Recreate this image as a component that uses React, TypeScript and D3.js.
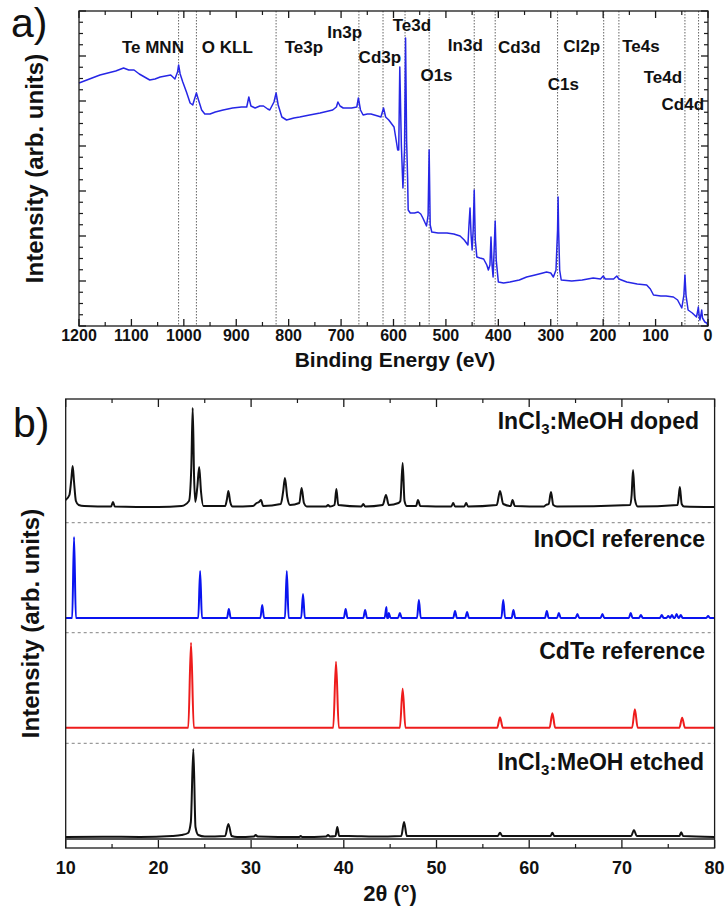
import React from "react";
import * as d3 from "d3";

// ---------- Panel a: XPS survey ----------
const xpsBE = [1200,1190,1175,1160,1145,1130,1115,1105,1095,1085,1075,1065,1055,1045,1035,1025,1017,1012,1010,1007,1002,995,988,983,979,976,972,966,960,950,940,925,907,890,880,876,872,864,855,848,840,836,828,824,820,813,804,790,779,760,740,716,709,706,702,696,680,670,667,663,658,650,643,630,624,619,615,609,599,595,592,590,588,585,582,579,577,575,573,572,568,560,553,548,544,537,534,532,530,527,515,498,485,473,465,458,456,454,452,450,448,446,444,441,435,428,422,419,416,414,412,410,408,406,404,400,390,378,360,346,330,315,308,300,295,290,287,286,285,283,280,260,240,219,205,200,196,180,174,170,155,135,117,110,104,90,80,66,58,50,46,44,42,38,30,22,20,18.5,17,15.5,13.5,12,10.5,6,2.5,0];
const xpsInt = [243,245,248,251,253,255,258,256,256,252,249,246,247,249,250,251,247,254,261,252,244,234,223,221,228,233,226,216,212,212,214,216,218,219,219,229,220,218,220,220,217,216,224,233,221,209,206,208,209,211,213,216,219,224,220,218,218,219,228,216,211,212,212,210,209,218,209,206,199,186,176,176,259,181,138,176,288,186,146,116,113,113,114,112,108,100,111,176,101,94,93,93,92,90,86,81,101,118,91,76,96,136,86,69,68,67,61,56,61,89,61,49,76,105,66,44,43,44,46,49,51,53,54,53,49,56,96,129,96,56,46,45,46,48,47,50,47,47,50,47,44,42,41,37,31,30,30,29,26,18,31,51,31,16,13,9,14,19,11,6,11,16,8,4,3,0];
const xpsLines = [1010, 976, 824, 666, 620, 578, 532, 446, 406, 287, 199, 170, 44, 18];
const xpsLabels = ["Te MNN","O KLL","Te3p","In3p","Cd3p","Te3d","O1s","In3d","Cd3d","Cl2p","Te4s","C1s","Te4d","Cd4d"];
const xpsLabelBE = [1059, 917, 771, 693, 626, 565, 518, 463, 360, 241, 128, 276, 86, 48];
const xpsLabelLevel = [273, 273, 273, 288, 263, 295, 245, 275, 273, 274, 274, 236, 243, 216];
const xpsTicks = [1200,1100,1000,900,800,700,600,500,400,300,200,100,0];

// ---------- Panel b: XRD ----------
const dopedTheta = [10,10.4,10.6,10.75,10.9,11.1,11.4,12,14.9,15.1,15.3,20,22.5,23.3,23.55,23.7,23.85,23.98,24.2,24.4,24.6,24.85,27.2,27.4,27.55,27.75,28,30.2,30.6,30.85,31.07,31.3,33.2,33.45,33.65,33.9,34.2,35.2,35.45,35.7,36,38.1,38.3,38.5,39.0,39.2,39.4,41.9,42.1,42.3,44.2,44.55,44.85,45.9,46.1,46.35,46.55,46.8,47.8,48.0,48.25,51.6,51.8,52,53.0,53.2,53.4,56.5,56.85,57.2,58.0,58.2,58.45,61.6,61.8,62.1,62.35,62.6,63,70.9,71.05,71.2,71.4,71.7,76.0,76.1,76.25,76.45,76.7,80];
const dopedInt = [7,12,27,41,25,6,2,1,0.5,5,0.5,0,1,6,40,99,30,5,20,40,15,1,1,8,16,5,0.5,1,4,5,7,1,3,15,29,10,2,4,19,4,0.5,0.5,2,0.5,2,18,2,0.5,3,0.5,2,12,2,4,6,44,6,1,1,7,1,0.5,4,0.5,0.5,4,0.5,2,16,3,1,7,1,0.5,2,3,15,2,0.5,2,12,37,8,0.5,2,8,20,3,0.5,0];

const etchedTheta = [10,14,18,21.5,22.5,23.2,23.5,23.77,24.0,24.3,25,27.2,27.55,27.9,28.5,30.3,30.5,30.7,35.2,35.35,35.5,38.1,38.3,38.5,39.1,39.3,39.5,40.5,43.3,46.2,46.5,46.8,49.8,56.6,56.85,57.1,62.3,62.5,62.7,71.0,71.3,71.6,76.2,76.4,76.6,80];
const etchedInt = [0,0.3,0,1,2,4,15,88,10,2,0.5,1,13,1,0,0.5,2,0.5,0,1,0,0.5,2,0.5,1,10,1,1,0.5,1,15,1,1,1,4.3,1,1,4.3,1,1,7,1,1,4.7,1,0];

const inoclPeaks = [10.9,24.5,27.6,31.2,33.85,35.6,40.2,42.3,44.6,44.85,46.05,48.1,52.0,53.3,57.2,58.3,61.9,63.2,65.2,67.9,70.95,72.05,74.3,75.0,75.4,75.9,76.35,79.3];
const inoclHeights = [81,47,9,13,47,24,9,8,11,5,5,18,7,6,18,8,7,5,4,4,5,3,3,2,3,4,3,2];

const cdtePeaks = [23.52,39.16,46.35,56.85,62.5,71.4,76.5];
const cdteHeights = [85,66,39,10.4,14.4,18.4,10];

const xrdOffsets = [341, 230, 120.3, 11]; // doped, InOCl, CdTe, etched
const xrdSeparators = [325.3, 215.3, 104.7];
const xrdLabels = ["doped", "InOCl reference", "CdTe reference", "etched"];
const xrdTicks = [10,20,30,40,50,60,70,80];

const FONT = "'Liberation Sans', Arial, sans-serif";

function peaksToPoints(pos: number[], h: number[], w: number): [number, number][] {
  const pts: [number, number][] = [[10, 0]];
  pos.forEach((p, i) => {
    pts.push([p - w, 0], [p, h[i]], [p + w, 0]);
  });
  pts.push([80, 0]);
  return pts.sort((a, b) => a[0] - b[0]);
}

export default function App() {
  const xA = d3.scaleLinear().domain([1200, 0]).range([79, 708]);
  const yA = d3.scaleLinear().domain([0, 315]).range([326, 11]);
  const xB = d3.scaleLinear().domain([10, 80]).range([65.7, 714.6]);
  const yB = d3.scaleLinear().domain([0, 449]).range([848, 399]);

  const lineA = d3.line<number>().x((_, i) => xA(xpsBE[i])).y((d) => yA(d)).curve(d3.curveLinear);
  const xpsPath = lineA(xpsInt) || "";

  const mkLine = (off: number) =>
    d3.line<[number, number]>().x((d) => xB(d[0])).y((d) => yB(d[1] + off)).curve(d3.curveMonotoneX);

  const dopedPts = dopedTheta.map((t, i) => [t, dopedInt[i]] as [number, number]);
  const etchedPts = etchedTheta.map((t, i) => [t, etchedInt[i]] as [number, number]);
  const inoclPts = peaksToPoints(inoclPeaks, inoclHeights, 0.2);
  const cdtePts = peaksToPoints(cdtePeaks, cdteHeights, 0.3);

  const minorA = d3.range(50, 1200, 100);
  const yMajA = d3.range(0, 316, 45);
  const yMinA = d3.range(0, 315, 11.25).filter((v) => Math.abs(v % 45) > 0.01);
  const minorB = d3.range(15, 80, 10);

  const frame = "#1a1a1a";

  return (
    <svg width={728} height={919} style={{ display: "block", position: "absolute", left: 0, top: 0, background: "#fff" }} fontFamily={FONT}>
      <rect width={728} height={919} fill="#fff" />
      {/* ===== Panel a ===== */}
      <text x={11} y={37} fontSize={41} fill="#111">a)</text>
      {xpsLines.map((be) => (
        <line key={"dl" + be} x1={xA(be)} x2={xA(be)} y1={yA(315)} y2={yA(0)} stroke="#666" strokeWidth={1} strokeDasharray="1.5,1.5" />
      ))}
      <path d={xpsPath} fill="none" stroke="#2626e6" strokeWidth={1.5} strokeLinejoin="round" />
      <rect x={79} y={11} width={708 - 79} height={315} fill="none" stroke={frame} strokeWidth={1.3} />
      {xpsTicks.map((t) => (
        <g key={"xt" + t}>
          <line x1={xA(t)} x2={xA(t)} y1={326} y2={319} stroke={frame} strokeWidth={1.3} />
          <line x1={xA(t)} x2={xA(t)} y1={11} y2={18} stroke={frame} strokeWidth={1.3} />
          <text x={xA(t)} y={341} fontSize={16} fontWeight="bold" textAnchor="middle" fill="#111">{t}</text>
        </g>
      ))}
      {minorA.map((t) => (
        <g key={"xm" + t}>
          <line x1={xA(t)} x2={xA(t)} y1={326} y2={322} stroke={frame} strokeWidth={1.2} />
          <line x1={xA(t)} x2={xA(t)} y1={11} y2={15} stroke={frame} strokeWidth={1.2} />
        </g>
      ))}
      {yMajA.map((v) => (
        <g key={"ym" + v}>
          <line x1={79} x2={86} y1={yA(v)} y2={yA(v)} stroke={frame} strokeWidth={1.3} />
          <line x1={708} x2={701} y1={yA(v)} y2={yA(v)} stroke={frame} strokeWidth={1.3} />
        </g>
      ))}
      {yMinA.map((v) => (
        <g key={"yn" + v}>
          <line x1={79} x2={83} y1={yA(v)} y2={yA(v)} stroke={frame} strokeWidth={1.2} />
          <line x1={708} x2={704} y1={yA(v)} y2={yA(v)} stroke={frame} strokeWidth={1.2} />
        </g>
      ))}
      {xpsLabels.map((l, i) => (
        <text key={"lab" + l} x={xA(xpsLabelBE[i])} y={yA(xpsLabelLevel[i])} fontSize={17} fontWeight="bold" textAnchor="middle" fill="#111">{l}</text>
      ))}
      <text x={395} y={367} fontSize={21} fontWeight="bold" textAnchor="middle" fill="#111">Binding Energy (eV)</text>
      <text transform={`translate(43,${(11 + 326) / 2}) rotate(-90)`} fontSize={24} fontWeight="bold" textAnchor="middle" fill="#111">Intensity (arb. units)</text>

      {/* ===== Panel b ===== */}
      <text x={13} y={437} fontSize={41} fill="#111">b)</text>
      {xrdSeparators.map((s) => (
        <line key={"sep" + s} x1={65.7} x2={714.6} y1={yB(s)} y2={yB(s)} stroke="#9a9a9a" strokeWidth={1.2} strokeDasharray="3,3" />
      ))}
      <path d={mkLine(xrdOffsets[0])(dopedPts) || ""} fill="none" stroke="#111" strokeWidth={2} strokeLinejoin="round" />
      <path d={mkLine(xrdOffsets[1])(inoclPts) || ""} fill="none" stroke="#0a14f0" strokeWidth={2} strokeLinejoin="round" />
      <path d={mkLine(xrdOffsets[2])(cdtePts) || ""} fill="none" stroke="#ee1c1c" strokeWidth={2} strokeLinejoin="round" />
      <path d={mkLine(xrdOffsets[3])(etchedPts) || ""} fill="none" stroke="#111" strokeWidth={2} strokeLinejoin="round" />
      <line x1={65.7} x2={714.6} y1={839} y2={839} stroke={frame} strokeWidth={1.3} />
      <rect x={65.7} y={399} width={714.6 - 65.7} height={449} fill="none" stroke={frame} strokeWidth={1.3} />
      {xrdTicks.map((t) => (
        <g key={"bt" + t}>
          <line x1={xB(t)} x2={xB(t)} y1={848} y2={840} stroke={frame} strokeWidth={1.3} />
          <line x1={xB(t)} x2={xB(t)} y1={399} y2={407} stroke={frame} strokeWidth={1.3} />
          <text x={xB(t)} y={874} fontSize={18} fontWeight="bold" textAnchor="middle" fill="#111">{t}</text>
        </g>
      ))}
      {minorB.map((t) => (
        <g key={"bm" + t}>
          <line x1={xB(t)} x2={xB(t)} y1={848} y2={844} stroke={frame} strokeWidth={1.2} />
          <line x1={xB(t)} x2={xB(t)} y1={399} y2={403} stroke={frame} strokeWidth={1.2} />
        </g>
      ))}
      <text x={699} y={yB(xrdOffsets[0] + 78)} fontSize={23} fontWeight="bold" textAnchor="end" fill="#111">
        InCl<tspan fontSize={15} dy={5}>3</tspan><tspan dy={-5}>:MeOH {xrdLabels[0]}</tspan>
      </text>
      <text x={705} y={yB(xrdOffsets[1] + 71)} fontSize={23} fontWeight="bold" textAnchor="end" fill="#111">{xrdLabels[1]}</text>
      <text x={705} y={yB(xrdOffsets[2] + 69)} fontSize={23} fontWeight="bold" textAnchor="end" fill="#111">{xrdLabels[2]}</text>
      <text x={704} y={yB(xrdOffsets[3] + 67)} fontSize={23} fontWeight="bold" textAnchor="end" fill="#111">
        InCl<tspan fontSize={15} dy={5}>3</tspan><tspan dy={-5}>:MeOH {xrdLabels[3]}</tspan>
      </text>
      <text x={390} y={901} fontSize={22} fontWeight="bold" textAnchor="middle" fill="#111">2θ (°)</text>
      <text transform={`translate(39,${(399 + 848) / 2}) rotate(-90)`} fontSize={24} fontWeight="bold" textAnchor="middle" fill="#111">Intensity (arb. units)</text>
    </svg>
  );
}
